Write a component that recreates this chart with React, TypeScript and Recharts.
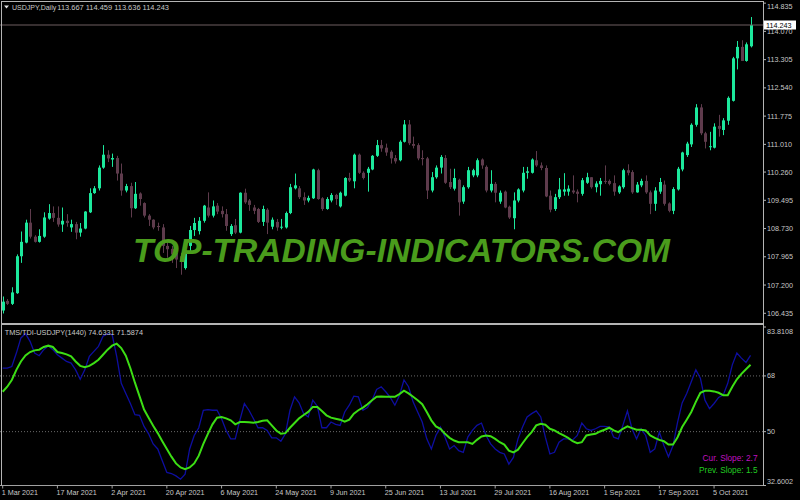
import { ComposedChart, Bar, XAxis, YAxis, ReferenceLine, LineChart, Line } from "recharts";

// USDJPY daily candles, 1 Mar 2021 .. 15 Oct 2021 (bar index = position)
const opens = [
  106.51, 106.77, 106.69, 106.98, 107.98, 108.35, 108.89, 108.51, 108.37, 108.51,
  109.0, 109.15, 109.02, 108.84, 108.94, 108.76, 108.85, 108.62, 108.73, 109.17,
  109.69, 109.82, 110.38, 110.73, 110.6, 110.64, 110.22, 109.76, 109.88, 109.28,
  109.68, 109.42, 109.08, 108.97, 108.8, 108.76, 108.26, 108.18, 108.07, 107.98,
  107.66, 108.26, 108.69, 108.66, 108.94, 109.3, 109.08, 109.35, 109.21, 109.12,
  108.58, 108.82, 108.62, 109.7, 109.49, 109.3, 109.26, 108.91, 109.24, 108.78,
  108.91, 108.76, 108.76, 109.15, 109.82, 109.82, 109.58, 109.49, 109.55, 110.31,
  109.55, 109.26, 109.49, 109.64, 109.33, 109.62, 110.1, 110.01, 110.73, 110.24,
  110.24, 110.33, 110.7, 110.99, 110.92, 110.81, 110.64, 110.58, 111.08, 111.55,
  111.02, 110.99, 110.64, 110.63, 109.76, 110.12, 110.38, 110.64, 109.99, 109.81,
  110.05, 109.46, 109.85, 110.17, 110.17, 110.6, 110.4, 109.76, 109.94, 109.46,
  109.73, 109.32, 109.01, 109.49, 109.76, 110.24, 110.24, 110.58, 110.44, 110.37,
  109.62, 109.26, 109.58, 109.73, 109.73, 109.76, 109.73, 109.67, 109.97, 110.12,
  109.85, 109.93, 110.02, 110.02, 109.96, 109.71, 109.85, 110.31, 110.26, 109.71,
  109.9, 110.02, 109.71, 109.4, 109.73, 109.92, 109.41, 109.21, 109.79, 110.33,
  110.72, 111.01, 111.54, 112.01, 111.31, 110.94, 110.92, 111.51, 111.4, 111.65,
  112.19, 113.34, 113.65, 113.27, 113.667,
];
const highs = [
  106.89, 106.82, 107.14, 108.03, 108.65, 108.97, 109.26, 108.55, 108.71, 109.17,
  109.39, 109.33, 109.33, 109.3, 109.12, 108.97, 108.91, 108.88, 109.2, 109.82,
  109.88, 110.44, 110.99, 110.85, 110.76, 110.7, 110.49, 109.94, 109.97, 109.99,
  109.71, 109.44, 109.12, 108.98, 108.89, 108.85, 108.39, 108.26, 108.12, 108.07,
  108.21, 108.8, 109.02, 109.04, 109.37, 109.71, 109.49, 109.42, 109.33, 109.26,
  108.85, 108.99, 109.71, 109.81, 109.53, 109.37, 109.29, 109.35, 109.28, 109.03,
  108.99, 108.99, 109.19, 109.94, 110.22, 109.88, 109.71, 109.62, 110.35, 110.35,
  109.58, 109.58, 109.69, 109.67, 109.73, 110.12, 110.24, 110.76, 110.76, 110.28,
  110.4, 110.72, 111.13, 111.13, 111.03, 110.85, 110.72, 111.12, 111.67, 111.67,
  111.22, 111.04, 110.85, 110.67, 110.26, 110.44, 110.72, 110.72, 110.35, 110.35,
  110.08, 109.9, 110.4, 110.35, 110.63, 110.63, 110.44, 110.31, 109.99, 109.76,
  109.76, 109.35, 109.71, 109.82, 110.4, 110.4, 110.63, 110.83, 110.52, 110.44,
  109.76, 109.67, 110.1, 110.23, 109.9, 110.17, 109.79, 110.1, 110.24, 110.12,
  110.01, 110.1, 110.44, 110.06, 110.17, 109.9, 110.35, 110.47, 110.31, 109.99,
  110.08, 110.17, 109.76, 109.85, 110.1, 110.03, 109.44, 109.85, 110.4, 110.81,
  111.08, 111.58, 112.1, 112.1, 111.35, 111.35, 111.58, 111.81, 111.72, 112.31,
  113.38, 113.81, 113.83, 113.77, 114.459,
];
const lows = [
  106.43, 106.66, 106.66, 106.96, 107.8, 108.33, 108.46, 108.35, 108.35, 108.48,
  108.97, 108.91, 108.78, 108.64, 108.78, 108.64, 108.44, 108.51, 108.71, 109.15,
  109.67, 109.76, 110.35, 110.53, 110.4, 110.03, 109.62, 109.71, 109.03, 109.26,
  109.35, 109.03, 108.8, 108.71, 108.67, 108.07, 107.94, 107.8, 107.66, 107.48,
  107.62, 108.07, 108.53, 108.57, 108.89, 109.03, 109.03, 109.12, 109.03, 108.67,
  108.53, 108.58, 108.6, 109.4, 109.21, 109.12, 108.88, 108.8, 108.58, 108.71,
  108.67, 108.71, 108.73, 109.12, 109.79, 109.53, 109.37, 109.44, 109.53, 109.51,
  109.21, 109.24, 109.44, 109.37, 109.3, 109.6, 109.99, 109.82, 110.21, 110.06,
  109.73, 110.31, 110.67, 110.81, 110.7, 110.49, 110.49, 110.55, 111.06, 110.99,
  110.9, 110.58, 110.44, 109.53, 109.71, 110.08, 110.22, 109.94, 109.8, 109.76,
  109.08, 109.4, 109.81, 110.12, 110.12, 110.35, 109.71, 109.71, 109.44, 109.4,
  109.28, 108.99, 108.71, 109.44, 109.71, 110.08, 110.22, 110.4, 110.31, 109.58,
  109.17, 109.21, 109.53, 109.62, 109.62, 109.67, 109.44, 109.62, 109.94, 109.81,
  109.71, 109.62, 109.94, 109.9, 109.62, 109.67, 109.81, 110.17, 109.67, 109.7,
  109.85, 109.67, 109.12, 109.21, 109.67, 109.35, 109.17, 109.12, 109.76, 110.28,
  110.67, 110.94, 111.49, 111.26, 110.9, 110.85, 110.9, 111.22, 111.26, 111.54,
  112.17, 113.04, 113.27, 113.25, 113.636,
];
const closes = [
  106.75, 106.69, 107.0, 107.98, 108.37, 108.89, 108.51, 108.37, 108.53, 109.03,
  109.15, 109.02, 108.84, 108.94, 108.88, 108.85, 108.62, 108.73, 109.19, 109.69,
  109.82, 110.38, 110.73, 110.63, 110.64, 110.22, 109.76, 109.88, 109.28, 109.67,
  109.53, 109.08, 108.97, 108.76, 108.77, 108.26, 108.17, 108.03, 107.89, 107.85,
  108.12, 108.69, 108.88, 108.94, 109.35, 109.08, 109.33, 109.19, 109.12, 108.8,
  108.8, 108.62, 109.7, 109.44, 109.37, 109.21, 108.91, 109.26, 108.89, 108.97,
  108.76, 108.78, 109.15, 109.85, 109.9, 109.58, 109.49, 109.56, 110.33, 109.53,
  109.26, 109.53, 109.64, 109.53, 109.7, 110.1, 110.03, 110.73, 110.24, 110.1,
  110.35, 110.7, 110.99, 110.9, 110.79, 110.63, 110.55, 111.08, 111.55, 111.04,
  110.97, 110.63, 110.61, 109.76, 110.12, 110.38, 110.67, 109.97, 109.85, 110.1,
  109.44, 109.85, 110.31, 110.31, 110.58, 110.44, 109.76, 109.94, 109.7, 109.7,
  109.3, 109.03, 109.49, 109.79, 110.24, 110.28, 110.6, 110.44, 110.37, 109.6,
  109.24, 109.58, 109.79, 109.79, 109.81, 109.71, 109.67, 110.04, 110.12, 109.85,
  109.95, 110.02, 110.01, 109.94, 109.73, 109.87, 110.31, 110.24, 109.71, 109.92,
  110.02, 109.71, 109.4, 109.76, 109.99, 109.4, 109.21, 109.8, 110.35, 110.79,
  111.03, 111.54, 112.01, 111.31, 111.08, 110.96, 111.49, 111.43, 111.66, 112.27,
  113.34, 113.65, 113.27, 113.72, 114.243,
];

// TDI indicator: blue = RSI price line, green = signal line
const rsiLine = [
  70.5, 70.5, 71.04, 75.39, 80.28, 81.69, 79.19, 75.39, 74.52, 76.48,
  77.78, 76.48, 74.85, 73.76, 72.67, 72.13, 69.96, 66.91, 69.96, 74.3,
  75.93, 77.56, 80.83, 81.59, 81.37, 74.3, 65.61, 62.35, 59.09, 55.5,
  55.28, 51.69, 49.3, 46.04, 44.41, 40.61, 36.8, 36.48, 35.71, 34.63,
  36.26, 44.41, 48.76, 51.26, 56.91, 57.13, 56.91, 56.91, 54.19, 50.39,
  47.67, 47.67, 53.65, 59.09, 56.91, 54.19, 51.26, 51.26, 50.39, 48.0,
  48.0, 46.91, 49.3, 56.91, 61.26, 59.3, 55.82, 54.74, 60.17, 58.22,
  51.26, 51.26, 53.11, 52.35, 52.02, 56.37, 58.54, 61.48, 61.26, 56.91,
  57.78, 60.17, 63.65, 64.52, 62.89, 61.04, 58.54, 61.7, 66.69, 64.52,
  59.63, 56.37, 53.11, 47.67, 44.41, 48.76, 51.48, 48.22, 44.41, 45.5,
  43.87, 43.32, 48.22, 50.39, 52.02, 52.78, 48.76, 46.04, 44.41, 43.32,
  42.78, 39.52, 41.69, 47.67, 51.48, 54.74, 55.82, 56.69, 54.74, 48.22,
  42.78, 43.32, 46.58, 47.67, 47.67, 47.35, 48.76, 52.78, 50.93, 50.39,
  50.93, 51.69, 51.69, 51.48, 48.22, 47.67, 52.02, 56.69, 50.93, 47.67,
  50.93, 48.76, 43.32, 44.41, 49.85, 45.5, 41.91, 45.5, 53.11, 59.3,
  62.35, 66.15, 69.96, 67.24, 60.17, 57.45, 59.09, 61.04, 61.8, 65.61,
  71.59, 75.39, 73.76, 72.35, 74.6331,
];
const signalLine = [
  62.89, 64.52, 66.69, 69.96, 72.67, 74.63, 75.72, 76.26, 76.48, 77.35,
  77.78, 77.35, 75.72, 75.39, 74.96, 74.3, 72.67, 71.26, 70.82, 71.26,
  72.13, 73.22, 74.85, 76.48, 77.78, 78.43, 77.02, 74.52, 70.5, 65.82,
  61.48, 57.13, 54.52, 51.91, 49.52, 46.91, 44.41, 41.91, 39.74, 38.43,
  37.89, 38.43, 39.74, 42.24, 46.04, 49.3, 52.35, 54.52, 54.74, 54.3,
  53.65, 52.35, 53.11, 53.11, 53.0, 52.89, 53.11, 53.54, 53.65, 52.02,
  50.39, 49.3, 49.52, 51.26, 52.78, 54.3, 55.39, 56.37, 58.0, 58.0,
  56.69, 55.28, 54.52, 54.19, 53.87, 53.21, 53.87, 55.82, 56.91, 57.78,
  58.87, 60.17, 61.26, 61.37, 61.26, 61.26, 61.26, 62.13, 63.22, 62.35,
  61.26, 60.17, 58.87, 56.37, 53.65, 51.69, 50.93, 49.3, 48.0, 47.13,
  46.58, 46.58, 46.58, 46.04, 47.35, 48.43, 48.76, 48.54, 47.67, 46.58,
  45.82, 43.87, 43.32, 44.19, 46.26, 48.22, 49.85, 52.02, 52.56, 52.24,
  50.93, 50.39, 49.52, 48.76, 48.0, 46.91, 46.26, 46.58, 48.76, 49.09,
  49.3, 50.06, 50.61, 51.26, 50.39, 49.85, 50.93, 51.69, 51.15, 50.61,
  50.61, 50.39, 48.76, 48.0, 47.35, 46.91, 45.82, 45.82, 48.22, 51.48,
  53.87, 56.37, 59.63, 62.56, 63.22, 63.22, 63.0, 62.56, 61.8, 61.8,
  64.52, 66.91, 68.65, 70.17, 71.5874,
];

const dateTickIdx = [0, 12, 24, 36, 48, 60, 72, 84, 96, 108, 120, 132, 144, 156];
const dateLabels = [
  "1 Mar 2021", "17 Mar 2021", "2 Apr 2021", "20 Apr 2021", "6 May 2021", "24 May 2021", "9 Jun 2021",
  "25 Jun 2021", "13 Jul 2021", "29 Jul 2021", "16 Aug 2021", "1 Sep 2021", "17 Sep 2021", "5 Oct 2021",
];
const priceTicks = [114.835, 114.07, 113.305, 112.54, 111.775, 111.01, 110.26, 109.495, 108.73, 107.965, 107.2, 106.435];
const tdiTicks = [83.8108, 68, 50, 32.6002];
const tdiLevels = [68, 50];

const lastClose = closes[closes.length - 1];
const FONT = "'Liberation Sans', Arial, sans-serif";
const AXIS_TEXT = "#c8c8c8";
const FRAME = "#b4b4b4";
const BULL = "#1ce89c";
const BEAR = "#5e3b4c";
const X_DOMAIN = [-0.59, 166.73];

const candles = opens.map((o, i) => ({
  idx: i,
  open: o,
  high: highs[i],
  low: lows[i],
  close: closes[i],
  range: [lows[i], highs[i]],
}));

const tdiData = rsiLine.map((v, i) => ({ idx: i, rsi: v, signal: signalLine[i] }));

function Candle(props: any) {
  const { x, y, width, height, payload } = props;
  if (!payload) return null;
  const { open, close, high, low } = payload;
  const top = Math.min(y, y + height);
  const h = Math.abs(height);
  const ppu = high > low ? h / (high - low) : 0;
  const yOf = (v: number) => top + (high - v) * ppu;
  const cx = Math.round(x + width / 2) + 0.5;
  const bull = close >= open;
  const color = bull ? BULL : BEAR;
  const bTop = Math.min(yOf(open), yOf(close));
  const bH = Math.max(1, Math.abs(yOf(open) - yOf(close)));
  return (
    <g>
      <line x1={cx} x2={cx} y1={top} y2={top + h} stroke={color} strokeWidth={1} />
      <rect x={cx - 1.5} y={bTop} width={3} height={bH} fill={color} />
    </g>
  );
}

function makeYTick(top: number, bottom: number, fmt: (v: number) => string) {
  return (props: any) => {
    const { x, y, payload } = props;
    const cy = Math.max(top + 4, Math.min(bottom - 4, y));
    return (
      <text x={x} y={cy + 2.5} fill={AXIS_TEXT} fontSize={7.2} fontFamily={FONT} textAnchor="start">
        {fmt(payload.value)}
      </text>
    );
  };
}

function DateTick(props: any) {
  const { x, y, payload } = props;
  const k = dateTickIdx.indexOf(payload.value);
  return (
    <text x={x - 1} y={y + 6.5} fill={AXIS_TEXT} fontSize={7.2} fontFamily={FONT} textAnchor="start">
      {k >= 0 ? dateLabels[k] : ""}
    </text>
  );
}

function PriceLabel(props: any) {
  const { viewBox } = props;
  if (!viewBox) return null;
  const lx = viewBox.x + viewBox.width + 1;
  const ly = viewBox.y;
  return (
    <g>
      <rect x={lx} y={ly - 4.5} width={32} height={9} fill="#ffffff" />
      <text x={lx + 2} y={ly + 2.6} fill="#000000" fontSize={7.2} fontFamily={FONT}>
        {lastClose.toFixed(3)}
      </text>
    </g>
  );
}

const PriceTick = makeYTick(2, 322, (v) => v.toFixed(3));
const TdiTick = makeYTick(7, 165.5, (v) => (Number.isInteger(v) ? String(v) : v.toFixed(4)));

export default function App() {
  return (
    <div style={{ position: "absolute", left: 0, top: 0, width: 800, height: 500, background: "#000", overflow: "hidden" }}>
      <div style={{ position: "absolute", left: 0, top: 0 }}>
        <ComposedChart width={800} height={330} data={candles} margin={{ top: 2, right: 0, bottom: 8, left: 0 }}>
          <XAxis dataKey="idx" type="number" domain={X_DOMAIN} allowDataOverflow hide />
          <YAxis
            orientation="right"
            width={37}
            domain={[106.199, 114.866]}
            allowDataOverflow
            ticks={priceTicks}
            interval={0}
            axisLine={false}
            tickLine={{ stroke: FRAME }}
            tickSize={3}
            tickMargin={1}
            tick={PriceTick}
          />
          <ReferenceLine y={lastClose} stroke="#6e5e60" strokeWidth={1} label={<PriceLabel />} />
          <Bar dataKey="range" barSize={3} shape={<Candle />} isAnimationActive={false} />
        </ComposedChart>
      </div>
      <div style={{ position: "absolute", left: 0, top: 320 }}>
        <LineChart width={800} height={180} data={tdiData} margin={{ top: 7, right: 0, bottom: 0, left: 0 }}>
          <XAxis
            dataKey="idx"
            type="number"
            domain={X_DOMAIN}
            allowDataOverflow
            ticks={dateTickIdx}
            interval={0}
            height={14.5}
            axisLine={{ stroke: "#a0a0a0" }}
            tickLine={{ stroke: "#a0a0a0" }}
            tickSize={3}
            tickMargin={0}
            tick={DateTick}
          />
          <YAxis
            orientation="right"
            width={37}
            domain={[32.6002, 83.8108]}
            allowDataOverflow
            ticks={tdiTicks}
            interval={0}
            axisLine={false}
            tickLine={{ stroke: FRAME }}
            tickSize={3}
            tickMargin={1}
            tick={TdiTick}
          />
          {tdiLevels.map((lv) => (
            <ReferenceLine key={lv} y={lv} stroke="#6a6a6a" strokeDasharray="1 2" />
          ))}
          <Line dataKey="rsi" type="linear" stroke="#0e0ea0" strokeWidth={1.3} dot={false} isAnimationActive={false} />
          <Line dataKey="signal" type="linear" stroke="#3cde14" strokeWidth={2} dot={false} isAnimationActive={false} />
        </LineChart>
      </div>
      <svg width={800} height={500} style={{ position: "absolute", left: 0, top: 0, pointerEvents: "none" }}>
        <line x1={1} x2={763.5} y1={1.5} y2={1.5} stroke={FRAME} />
        <line x1={1.5} x2={1.5} y1={1} y2={485.5} stroke={FRAME} />
        <line x1={763.5} x2={763.5} y1={1} y2={485.5} stroke={FRAME} />
        <rect x={1} y={323} width={763} height={2} fill={FRAME} />
        <polygon points="4,5.5 9,5.5 6.5,8.5" fill="#e0e0e0" />
        <text x={12} y={9.8} fill={AXIS_TEXT} fontSize={7} fontFamily={FONT}>USDJPY,Daily</text>
        <text x={57.3} y={9.8} fill={AXIS_TEXT} fontSize={7} fontFamily={FONT} textLength={111.7} lengthAdjust="spacingAndGlyphs">
          113.667 114.459 113.636 114.243
        </text>
        <text x={4.7} y={334.8} fill={AXIS_TEXT} fontSize={7.3} fontFamily={FONT}>
          TMS/TDI-USDJPY(1440) 74.6331 71.5874
        </text>
        <text x={757.5} y={460.5} fill="#c010c0" fontSize={8.3} fontFamily={FONT} textAnchor="end">
          Cur. Slope: 2.7
        </text>
        <text x={757.5} y={472.5} fill="#22cc22" fontSize={8.3} fontFamily={FONT} textAnchor="end">
          Prev. Slope: 1.5
        </text>
        <text
          x={133}
          y={262}
          fill="#4a9c1c"
          fontSize={33}
          fontWeight="bold"
          fontStyle="italic"
          fontFamily={FONT}
          textLength={537}
          lengthAdjust="spacingAndGlyphs"
        >
          TOP-TRADING-INDICATORS.COM
        </text>
      </svg>
    </div>
  );
}
